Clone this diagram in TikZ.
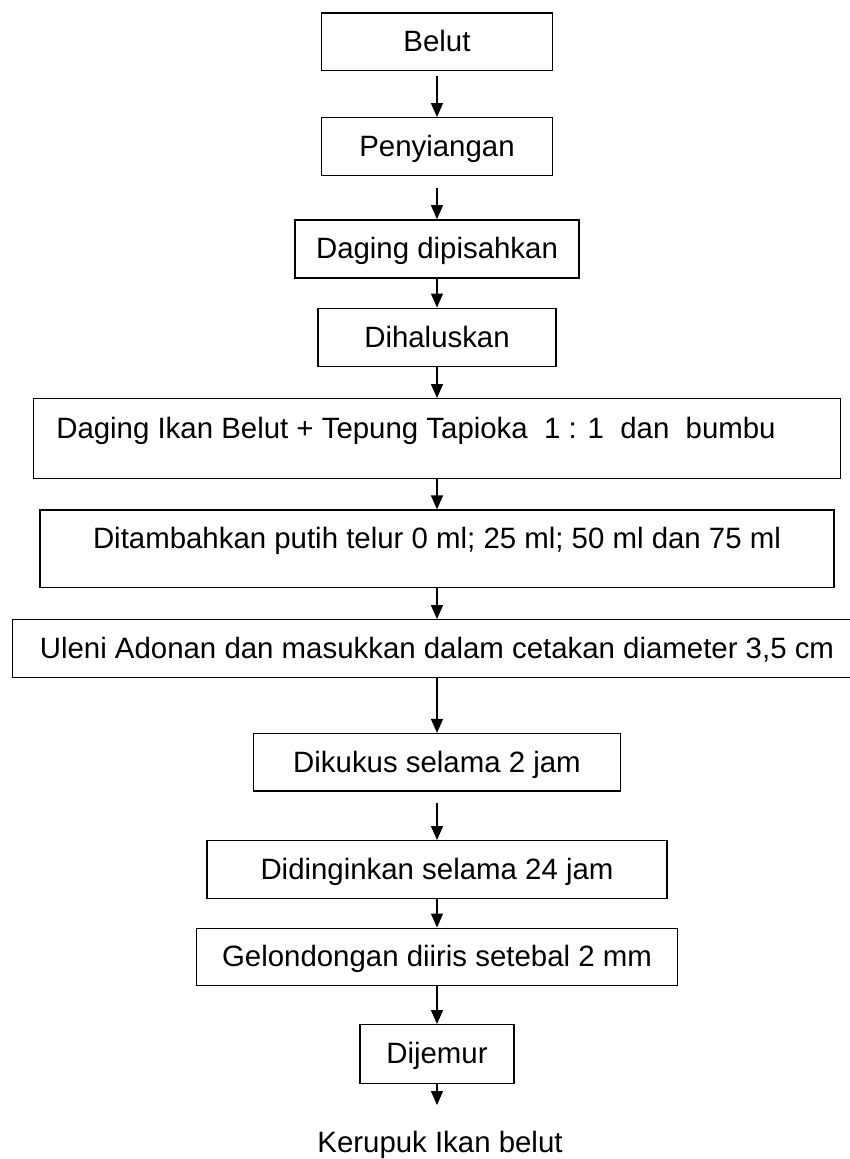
\documentclass[tikz,border=0pt]{standalone}
\usepackage{fontspec}
\setmainfont{Liberation Sans}
\usetikzlibrary{positioning,arrows.meta}
\tikzstyle{block} = [rectangle, draw, line width=1.3pt, inner sep=0pt,
    text height=20pt, text depth=0pt, minimum height=57.5pt, font=\fontsize{29.4}{34}\selectfont]
\tikzstyle{tallblock} = [block, text depth=20pt, minimum height=79.4pt]
\tikzstyle{line} = [draw, line width=1.3pt, -{Triangle[length=14pt,width=12pt]}]

\begin{document}
\begin{tikzpicture}[x=1pt,y=1pt]
    \useasboundingbox (0,0) rectangle (849,-1159);
    % Place nodes
    \node [block, minimum width=231pt, anchor=north] (belut) at (437,-12.3) {Belut};
    \node [block, minimum width=231pt, below=46pt of belut] (siang) {Penyiangan};
    \node [block, minimum width=284pt, minimum height=58pt, below=43.3pt of siang] (pisah) {Daging dipisahkan};
    \node [block, minimum width=238pt, minimum height=58pt, below=29pt of pisah] (halus) {Dihaluskan};
    \node [tallblock, minimum width=807pt, below=31.3pt of halus] (campur)
        {Daging Ikan Belut + Tepung Tapioka\ \ 1 : 1\ \ dan\ \ bumbu\hspace*{42pt}};
    \node [tallblock, minimum width=794pt, minimum height=77.4pt, below=30.6pt of campur] (telur)
        {Ditambahkan putih telur 0 ml; 25 ml; 50 ml dan 75 ml};
    \node [block, minimum width=849pt, below=31pt of telur] (uleni)
        {Uleni Adonan dan masukkan dalam cetakan diameter 3,5 cm};
    \node [block, minimum width=367pt, below=55pt of uleni] (kukus) {Dikukus selama 2 jam};
    \node [block, minimum width=460pt, below=48.3pt of kukus] (dingin) {Didinginkan selama 24 jam};
    \node [block, minimum width=481pt, below=28.7pt of dingin] (iris) {Gelondongan diiris setebal 2 mm};
    \node [block, minimum width=154pt, minimum height=58.5pt, below=37.7pt of iris] (jemur) {Dijemur};
    \node [inner sep=0pt, text height=20pt, text depth=0pt, font=\fontsize{29.4}{34}\selectfont, anchor=north]
        (kerupuk) at (440,-1132) {Kerupuk Ikan belut};
    \coordinate (ujung) at (437,-1105);
    % Draw edges
    \path [line, shorten <=5pt] (belut) -- (siang);
    \path [line, shorten <=12pt] (siang) -- (pisah);
    \path [line] (pisah) -- (halus);
    \path [line] (halus) -- (campur);
    \path [line] (campur) -- (telur);
    \path [line] (telur) -- (uleni);
    \path [line] (uleni) -- (kukus);
    \path [line, shorten <=11pt] (kukus) -- (dingin);
    \path [line] (dingin) -- (iris);
    \path [line] (iris) -- (jemur);
    \path [line] (jemur) -- (ujung);
\end{tikzpicture}
\end{document}
